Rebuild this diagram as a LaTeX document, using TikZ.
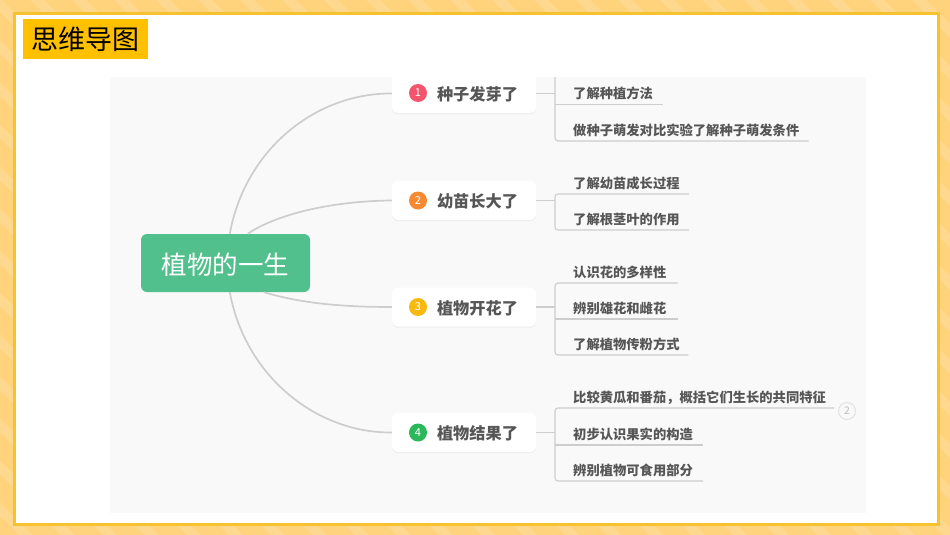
\documentclass[tikz,border=0pt]{standalone}
\usepackage{fontspec}
\setmainfont{Noto Sans CJK SC}
\usetikzlibrary{calc}
\definecolor{bandbg}{HTML}{FFD27C}
\definecolor{bandst}{HTML}{FFD88F}
\definecolor{goldln}{HTML}{F6C22F}
\definecolor{titlebg}{HTML}{FFC000}
\definecolor{panel}{HTML}{F9F9F9}
\definecolor{linegray}{HTML}{CDCDCD}
\definecolor{textgray}{HTML}{565656}
\definecolor{rootgreen}{HTML}{52C08D}
\definecolor{softshadow}{HTML}{EDEDED}
\tikzset{
  rootbox/.style={draw=none,fill=rootgreen,rounded corners=6pt,text=white,inner sep=0pt,minimum width=169pt,minimum height=58pt,font=\fontsize{25.5}{25.5}\selectfont},
  topicbox/.style={preaction={fill=softshadow,transform canvas={yshift=-1.2pt}},fill=white,rounded corners=6pt,inner sep=0pt,minimum width=144pt,minimum height=39pt,text=textgray,font=\fontsize{16.2}{16.2}\selectfont\bfseries},
  badge/.style={circle,inner sep=0pt,minimum size=18pt,text=white,font=\fontsize{11}{11}\selectfont},
  leaf/.style={inner sep=0pt,anchor=south west,minimum height=22pt,text=textgray,font=\fontsize{13.3}{13.3}\selectfont\bfseries},
  mainlink/.style={draw=linegray,line width=1.7pt},
  leaflink/.style={draw=linegray,line width=1.1pt,rounded corners=3pt},
}
\newcommand{\lf}[2]{\hspace*{18pt}\raisebox{-0.5pt}[\height][\depth]{#1}\hspace*{#2pt}}
\newcommand{\tp}[1]{\hspace*{27pt}\raisebox{-1pt}[\height][\depth]{#1}}
\begin{document}
\begin{tikzpicture}[x=1pt,y=-1pt]
\useasboundingbox (0,0) rectangle (950,535);
\fill[bandbg] (0,0) rectangle (950,535);
\begin{scope}
\clip (0,0) rectangle (950,535);
\foreach \s in {-600,-558,...,1000}
  \fill[bandst] (\s,0) -- ++(14,0) -- ++(535,535) -- ++(-14,0) -- cycle;
\end{scope}
\fill[goldln] (13,12) rectangle (940,526);
\fill[white] (16,15) rectangle (937,523);
\node[fill=titlebg,inner sep=0pt,minimum width=125pt,minimum height=40pt,text=black,font=\fontsize{27}{27}\selectfont] (title) at (85.5,39) {思维导图};
\fill[panel] (110,77) rectangle (866,513);

\begin{scope}
\clip (110,77) rectangle (866,513);
\node[rootbox] (root) at (225.5,263) {\raisebox{-1.5pt}[\height][\depth]{植物的一生}};
\node[topicbox] (t1) at (464,93.5) {\tp{种子发芽了}};
\node[topicbox] (t2) at (464,200.5) {\tp{幼苗长大了}};
\node[topicbox] (t3) at (464,307) {\tp{植物开花了}};
\node[topicbox] (t4) at (464,432.5) {\tp{植物结果了}};
\node[badge,fill={rgb,255:red,245;green,85;blue,108}] (b1) at (418,93) {1};
\node[badge,fill={rgb,255:red,245;green,138;blue,51}] (b2) at (418,200.5) {2};
\node[badge,fill={rgb,255:red,248;green,185;blue,15}] (b3) at (418,307) {3};
\node[badge,fill={rgb,255:red,43;green,184;blue,90}] (b4) at (418,432.5) {4};

\path[mainlink] ($(root.north west)+(89,0)$) .. controls (245,150) and (315,93) .. (t1.west);
\path[mainlink] ($(root.north west)+(107,0)$) .. controls (275,215) and (330,201) .. (t2.west);
\path[mainlink] ($(root.south west)+(123,0)$) .. controls (300,303) and (340,307) .. (t3.west);
\path[mainlink] ($(root.south west)+(89,0)$) .. controls (245,375) and (315,433) .. (t4.west);

\node[leaf] (l12) at (555,104.5) {\lf{了解种植方法}{10}};
\node[leaf] (l13) at (555,141) {\lf{做种子萌发对比实验了解种子萌发条件}{9}};
\node[leaf] (l21) at (555,194) {\lf{了解幼苗成长过程}{9}};
\node[leaf] (l22) at (555,230) {\lf{了解根茎叶的作用}{9}};
\node[leaf] (l31) at (555,283) {\lf{认识花的多样性}{11}};
\node[leaf] (l32) at (555,319) {\lf{辨别雄花和雌花}{11}};
\node[leaf] (l33) at (555,355) {\lf{了解植物传粉方式}{8.5}};
\node[leaf] (l41) at (555,408) {\lf{比较黄瓜和番茄，概括它们生长的共同特征}{8}};
\node[leaf] (l42) at (555,445) {\lf{初步认识果实的构造}{10}};
\node[leaf] (l43) at (555,481) {\lf{辨别植物可食用部分}{10}};
\node[circle,draw={rgb,255:red,224;green,224;blue,224},line width=0.9pt,inner sep=0pt,minimum size=17pt,text={rgb,255:red,190;green,190;blue,190},font=\fontsize{10.5}{10.5}\selectfont] (more) at (847,411) {2};

\coordinate (j1) at ($(t1.east)+(19,0)$);
\coordinate (j2) at ($(t2.east)+(19,0)$);
\coordinate (j3) at ($(t3.east)+(19,0)$);
\coordinate (j4) at ($(t4.east)+(19,0)$);
\coordinate (up1) at (555,70);

\path[leaflink] (t1.east) -- (j1);
\path[leaflink] (t2.east) -- (j2);
\path[leaflink] (t3.east) -- (j3);
\path[leaflink] (t4.east) -- (j4);
\path[leaflink] (up1) -- (l13.south west) -- (l13.south east);
\path[leaflink] (l12.south west) -- (l12.south east);
\path[leaflink] (l21.south east) -- (l21.south west) -- (l22.south west) -- (l22.south east);
\path[leaflink] (l31.south east) -- (l31.south west) -- (l33.south west) -- (l33.south east);
\path[leaflink] (l32.south west) -- (l32.south east);
\path[leaflink] (l41.south east) -- (l41.south west) -- (l43.south west) -- (l43.south east);
\path[leaflink] (l42.south west) -- (l42.south east);
\end{scope}
\end{tikzpicture}
\end{document}
